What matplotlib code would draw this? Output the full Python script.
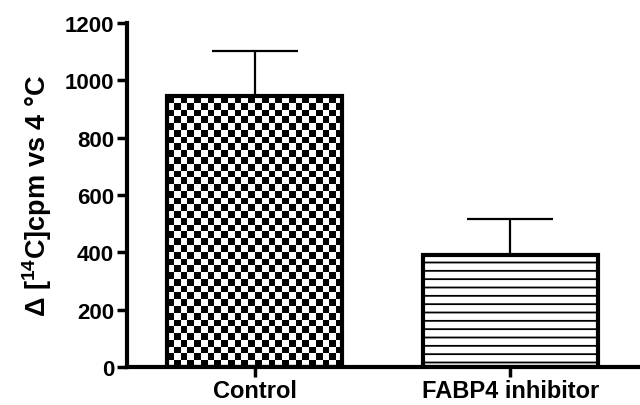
import numpy as np
import matplotlib
matplotlib.use("Agg")
import matplotlib.pyplot as plt

categories = ["Control", "FABP4 inhibitor"]
values = [945, 391]
errors = [157, 126]
yticks = [0, 200, 400, 600, 800, 1000, 1200]

plt.rcParams['font.family'] = ['Liberation Sans', 'DejaVu Sans']
plt.rcParams['font.weight'] = 'bold'
plt.rcParams['mathtext.fontset'] = 'custom'
plt.rcParams['mathtext.bf'] = 'Liberation Sans:bold'
plt.rcParams['mathtext.rm'] = 'Liberation Sans:bold'
plt.rcParams['mathtext.default'] = 'bf'
plt.rcParams['hatch.linewidth'] = 1.3
plt.rcParams['hatch.color'] = '#222222'

fig = plt.figure(figsize=(6.4, 4.06), dpi=100)
ax = fig.add_axes([0.198, 0.094, 0.799, 0.847])

x = np.arange(len(categories))
width = 0.685

# error bars (upper only)
ax.errorbar(x, values, yerr=[np.zeros(len(errors)), errors], fmt='none',
            ecolor='black', elinewidth=1.6, capsize=31, capthick=1.6, zorder=1)

bars = ax.bar(x, values, width=width, facecolor='white', edgecolor='black',
              linewidth=3, zorder=3)
bars[0].set_facecolor('none')
bars[1].set_hatch('--')

ax.set_xlim(-0.5, 1.5)
ax.set_ylim(0, 1200)

# checkerboard fill for the first bar, clipped to the bar
b0 = bars[0]
x0, y0 = b0.get_x(), b0.get_y()
w0, h0 = b0.get_width(), b0.get_height()
cell_px = 6.7
fig.canvas.draw()
p0 = ax.transData.transform((x0, y0))
p1 = ax.transData.transform((x0 + w0, y0 + h0))
nx = int(round((p1[0] - p0[0]) / cell_px))
ny = int(round((p1[1] - p0[1]) / cell_px))
ii, jj = np.indices((ny, nx))
board = ((ii + jj) % 2).astype(float)
im = ax.imshow(board, cmap='gray', extent=(x0, x0 + w0, y0, y0 + h0),
               origin='upper', interpolation='nearest', aspect='auto', zorder=2)
im.set_clip_path(b0)
ax.set_xlim(-0.5, 1.5)
ax.set_ylim(0, 1200)

for s in ['top', 'right']:
    ax.spines[s].set_visible(False)
for s in ['left', 'bottom']:
    ax.spines[s].set_linewidth(3)
    ax.spines[s].set_zorder(4)

ax.set_yticks(yticks)
ax.set_yticklabels([str(t) for t in yticks])
ax.set_xticks(x)
ax.set_xticklabels(categories)
ax.tick_params(axis='both', direction='out', length=7, width=2.5, pad=2)
ax.tick_params(axis='y', labelsize=16)
ax.tick_params(axis='x', labelsize=17)
for lab in ax.get_xticklabels() + ax.get_yticklabels():
    lab.set_fontweight('bold')

ax.set_ylabel(r'Δ [$^{14}$C]cpm vs 4 °C', fontsize=19.5, fontweight='bold', labelpad=8)

fig.savefig('out.png', dpi=100)
